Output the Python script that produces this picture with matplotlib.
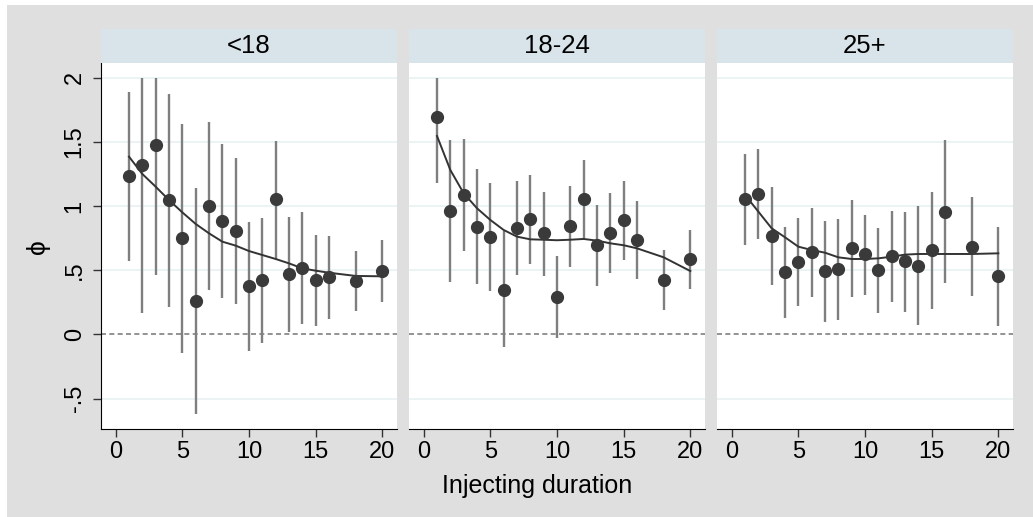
import numpy as np
import matplotlib.pyplot as plt
from matplotlib.patches import Rectangle

plt.rcParams['font.family'] = ['Liberation Sans', 'DejaVu Sans']

groups = ['<18', '18-24', '25+']
duration = [1, 2, 3, 4, 5, 6, 7, 8, 9, 10, 11, 12, 13, 14, 15, 16, 18, 20]

phi = {
    '<18':   [1.234, 1.320, 1.473, 1.047, 0.749, 0.263, 0.998, 0.886, 0.803, 0.375,
              0.422, 1.053, 0.471, 0.518, 0.422, 0.445, 0.419, 0.494],
    '18-24': [1.696, 0.962, 1.086, 0.840, 0.759, 0.349, 0.832, 0.902, 0.788, 0.292,
              0.843, 1.058, 0.697, 0.790, 0.889, 0.736, 0.424, 0.588],
    '25+':   [1.053, 1.094, 0.770, 0.487, 0.565, 0.640, 0.494, 0.510, 0.671, 0.625,
              0.500, 0.609, 0.570, 0.536, 0.658, 0.957, 0.684, 0.456],
}
ci_low = {
    '<18':   [0.575, 0.170, 0.463, 0.217, -0.142, -0.619, 0.347, 0.287, 0.235, -0.126,
              -0.069, 0.588, 0.022, 0.079, 0.066, 0.118, 0.185, 0.251],
    '18-24': [1.182, 0.409, 0.648, 0.391, 0.339, -0.095, 0.466, 0.551, 0.458, -0.027,
              0.523, 0.752, 0.380, 0.477, 0.580, 0.432, 0.188, 0.357],
    '25+':   [0.700, 0.744, 0.383, 0.131, 0.219, 0.294, 0.100, 0.115, 0.290, 0.308,
              0.165, 0.251, 0.178, 0.074, 0.201, 0.401, 0.300, 0.066],
}
ci_high = {
    '<18':   [1.886, 2.000, 2.000, 1.875, 1.637, 1.143, 1.652, 1.481, 1.372, 0.876,
              0.910, 1.509, 0.915, 0.957, 0.775, 0.765, 0.648, 0.736],
    '18-24': [2.000, 1.512, 1.520, 1.289, 1.180, 0.808, 1.193, 1.242, 1.112, 0.609,
              1.157, 1.357, 1.009, 1.102, 1.193, 1.040, 0.656, 0.814],
    '25+':   [1.406, 1.445, 1.149, 0.837, 0.905, 0.983, 0.884, 0.900, 1.045, 0.933,
              0.827, 0.962, 0.954, 0.998, 1.112, 1.512, 1.071, 0.840],
}
smooth = {
    '<18':   [1.385, 1.250, 1.151, 1.047, 0.951, 0.861, 0.788, 0.723, 0.692, 0.650,
              0.619, 0.588, 0.554, 0.515, 0.497, 0.481, 0.456, 0.453],
    '18-24': [1.546, 1.281, 1.100, 0.983, 0.892, 0.814, 0.762, 0.741, 0.738, 0.734,
              0.738, 0.744, 0.731, 0.710, 0.695, 0.671, 0.601, 0.494],
    '25+':   [1.087, 0.957, 0.827, 0.757, 0.684, 0.658, 0.637, 0.601, 0.588, 0.588,
              0.593, 0.606, 0.622, 0.627, 0.627, 0.627, 0.627, 0.632],
}

yticks = [-0.5, 0, 0.5, 1, 1.5, 2]
ytick_labels = ['-.5', '0', '.5', '1', '1.5', '2']
xticks = [0, 5, 10, 15, 20]

W, H = 1033, 517
fig = plt.figure(figsize=(W / 100, H / 100), dpi=100, facecolor='white')
fig.patches.append(Rectangle((7 / W, 0), 1 - 7 / W, 1 - 5 / H, transform=fig.transFigure,
                             facecolor='#dfdfdf', edgecolor='none', zorder=-10))

lefts = [101, 409, 717]
pw = 296
bottom = (H - 429) / H
ph = (429 - 63.3) / H
sh = (63.3 - 28.5) / H

for i, g in enumerate(groups):
    ax = fig.add_axes([lefts[i] / W, bottom, pw / W, ph])
    ax.set_facecolor('white')
    x = np.array(duration)
    ax.vlines(x, ci_low[g], ci_high[g], color='#7f7f7f', lw=1.7, zorder=2)
    ax.plot(x, smooth[g], color='#333333', lw=1.4, zorder=3)
    ax.plot(x, phi[g], 'o', color='#3a3a3a', ms=8.5, zorder=4)
    ax.axhline(0, color='#808080', lw=1.2, ls=(0, (3, 2)), zorder=1)
    for yt in yticks:
        if yt != 0:
            ax.axhline(yt, color='#eaf2f3', lw=1.3, zorder=0)
    ax.set_xlim(-1.1, 21.1)
    ax.set_ylim(-0.736, 2.112)
    ax.set_xticks(xticks)
    ax.set_xticklabels([str(t) for t in xticks], fontsize=17)
    ax.tick_params(axis='x', length=6, width=1, color='#333333', pad=3)
    for s in ['top', 'right']:
        ax.spines[s].set_visible(False)
    ax.spines['bottom'].set_color('black')
    if i == 0:
        ax.set_yticks(yticks)
        ax.set_yticklabels(ytick_labels, fontsize=17, rotation=90, va='center')
        ax.tick_params(axis='y', length=6, width=1, color='#333333', pad=5)
        ax.spines['left'].set_color('black')
        ax.set_ylabel('ϕ', fontsize=19, labelpad=10)
    else:
        ax.set_yticks([])
        ax.spines['left'].set_visible(False)

    sax = fig.add_axes([lefts[i] / W, bottom + ph, pw / W, sh])
    sax.set_facecolor('#d8e4ea')
    sax.set_xticks([])
    sax.set_yticks([])
    for s in sax.spines.values():
        s.set_visible(False)
    sax.text(0.5, 0.5, g, ha='center', va='center', fontsize=18.5, transform=sax.transAxes)

fig.text(537 / W, 1 - 486 / H, 'Injecting duration', ha='center', va='center', fontsize=18)

fig.savefig('out.png', dpi=100, facecolor=fig.get_facecolor())
